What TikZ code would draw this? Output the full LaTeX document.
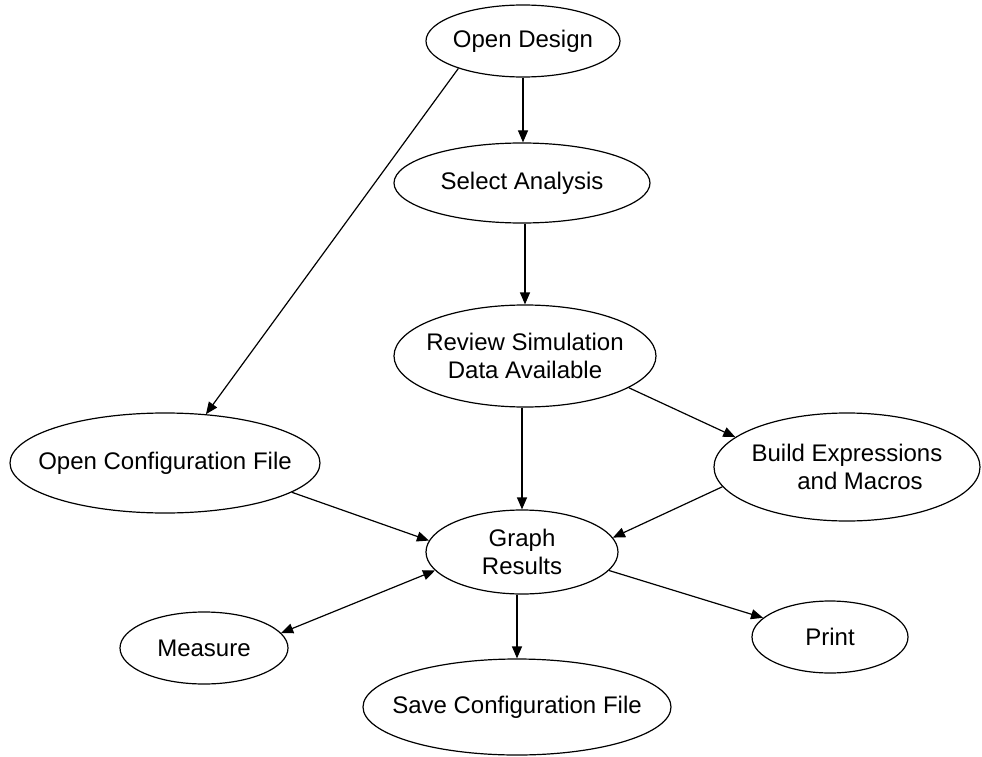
\documentclass[tikz,border=0pt]{standalone}
\usepackage{fontspec}
\setmainfont{Liberation Sans}
\usetikzlibrary{shapes.geometric,arrows.meta}
\begin{document}
\begin{tikzpicture}[x=1pt,y=-1pt,
  ell/.style={ellipse,draw=black,line width=1.2pt,inner xsep=-80pt,inner ysep=-40pt,align=center,
    font=\fontsize{24}{28.5}\selectfont},
  conn/.style={line width=1.2pt,-{Triangle[length=12pt,width=10pt]}},
  biconn/.style={line width=1.2pt,{Triangle[length=12pt,width=10pt]}-{Triangle[length=12pt,width=10pt]}}]
\useasboundingbox (0,0) rectangle (982,757);
\node[ell,minimum width=194pt,minimum height=72pt] (od) at (523,41) {Open Design};
\node[ell,minimum width=256pt,minimum height=80pt] (sa) at (522,183) {Select Analysis};
\node[ell,minimum width=262pt,minimum height=102pt] (rv) at (525,356) {Review Simulation\\Data Available};
\node[ell,minimum width=310pt,minimum height=100pt] (oc) at (165,463) {Open Configuration File};
\node[ell,minimum width=266pt,minimum height=108pt] (bd) at (847,467) {Build Expressions\\\hspace*{26pt}and Macros};
\node[ell,minimum width=192pt,minimum height=84pt] (gr) at (522,552) {Graph\\Results};
\node[ell,minimum width=168pt,minimum height=72pt] (ms) at (204,648) {Measure};
\node[ell,minimum width=156pt,minimum height=72pt] (pr) at (830,637) {Print};
\node[ell,minimum width=308pt,minimum height=96pt] (sv) at (517,707) {Save Configuration File};
\draw[conn] (od.south) -- (od.south |- sa.north);
\draw[conn] (rv.north |- sa.south) -- (rv.north);
\draw[conn] (od.203) -- (oc.50);
\draw[conn] (gr.north |- rv.south) -- (gr.north);
\draw[conn] (rv.-17) -- (bd.165);
\draw[conn] (oc.-13) -- (gr.173);
\draw[conn] (bd.189) -- (gr.9);
\draw[biconn] (ms.11) -- (gr.192);
\draw[conn] (gr.-12) -- (pr.164);
\draw[conn] (sv.north |- gr.south) -- (sv.north);
\end{tikzpicture}
\end{document}
